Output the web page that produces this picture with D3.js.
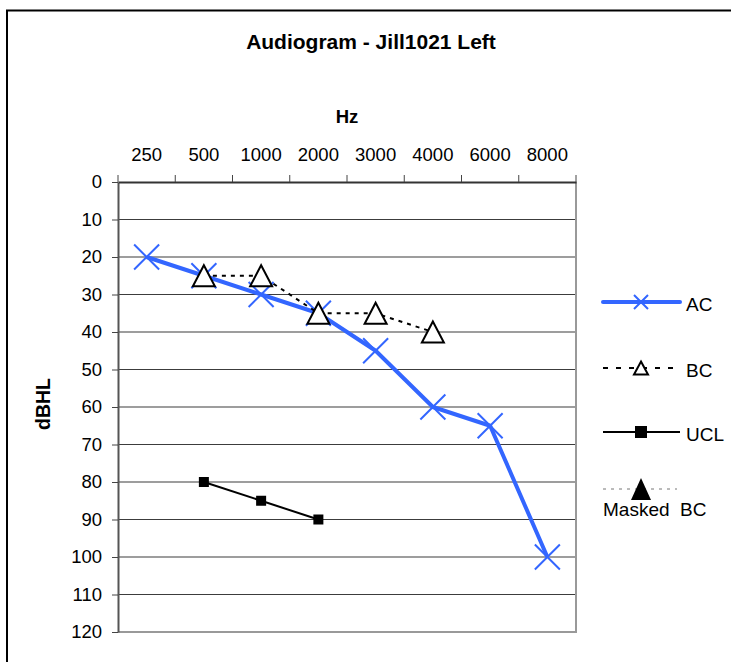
<!DOCTYPE html>
<html>
<head>
<meta charset="utf-8">
<script src="https://cdn.jsdelivr.net/npm/d3@7/dist/d3.min.js"></script>
<style>
  body { margin: 0; background: #fff; }
  svg { display: block; font-family: "Liberation Sans", Arial, sans-serif; }
</style>
</head>
<body>
<svg id="chart" width="731" height="662"></svg>
<script>
// Audiogram data
const freqs = ["250", "500", "1000", "2000", "3000", "4000", "6000", "8000"];
const acValues = [20, 25, 30, 35, 45, 60, 65, 100];
const bcFreqs = ["500", "1000", "2000", "3000", "4000"];
const bcValues = [25, 25, 35, 35, 40];
const uclFreqs = ["500", "1000", "2000"];
const uclValues = [80, 85, 90];
const dbTicks = [0, 10, 20, 30, 40, 50, 60, 70, 80, 90, 100, 110, 120];
const legendNames = ["AC", "BC", "UCL", "Masked  BC"];

const svg = d3.select("#chart");
const plot = { left: 118, top: 182, right: 576, bottom: 632 };

const x = d3.scaleBand().domain(freqs).range([plot.left, plot.right]).padding(0);
const y = d3.scaleLinear().domain([0, 120]).range([plot.top, plot.bottom]);
const cx = f => x(f) + x.bandwidth() / 2;

// outer frame
svg.append("path")
  .attr("d", "M7,662 L7,10.5 L731,10.5")
  .attr("fill", "none").attr("stroke", "#000").attr("stroke-width", 2);

// title
svg.append("text")
  .attr("x", 371).attr("y", 49)
  .attr("text-anchor", "middle")
  .attr("font-weight", "bold").attr("font-size", 21)
  .text("Audiogram - Jill1021 Left");

// horizontal gridlines
svg.append("g").selectAll("line")
  .data(dbTicks.filter(d => d > 0 && d < 120))
  .join("line")
  .attr("x1", plot.left).attr("x2", plot.right)
  .attr("y1", d => y(d)).attr("y2", d => y(d))
  .attr("stroke", "#3c3c3c").attr("stroke-width", 1.2);

// right and bottom plot borders
svg.append("path")
  .attr("d", `M${plot.right},${plot.top} L${plot.right},${plot.bottom} L${plot.left},${plot.bottom}`)
  .attr("fill", "none").attr("stroke", "#999").attr("stroke-width", 2);

// left axis
const yAxis = svg.append("g")
  .attr("transform", `translate(${plot.left},0)`)
  .call(d3.axisLeft(y).tickValues(dbTicks).tickSize(6).tickPadding(10).tickSizeOuter(0));
yAxis.select(".domain").attr("stroke", "#555").attr("stroke-width", 2);
yAxis.selectAll(".tick line").attr("stroke", "#444");
yAxis.selectAll(".tick text")
  .attr("font-size", 18.5).attr("fill", "#000")
  .attr("font-family", "\"Liberation Sans\", Arial, sans-serif");

// top axis: line, boundary ticks and category labels
const xAxis = svg.append("g")
  .attr("transform", `translate(0,${plot.top})`)
  .call(d3.axisTop(x).tickSize(0).tickPadding(21).tickSizeOuter(0));
xAxis.select(".domain").attr("stroke", "#333").attr("stroke-width", 2);
xAxis.selectAll(".tick text")
  .attr("font-size", 18.5).attr("fill", "#000")
  .attr("font-family", "\"Liberation Sans\", Arial, sans-serif");
const bounds = freqs.map(f => x(f)).concat([x(freqs[freqs.length - 1]) + x.bandwidth()]);
xAxis.append("g").selectAll("line")
  .data(bounds)
  .join("line")
  .attr("x1", d => d).attr("x2", d => d)
  .attr("y1", 0).attr("y2", -7)
  .attr("stroke", "#444").attr("stroke-width", 1);

// axis titles
svg.append("text")
  .attr("x", (plot.left + plot.right) / 2).attr("y", 123)
  .attr("text-anchor", "middle")
  .attr("font-weight", "bold").attr("font-size", 18.5)
  .text("Hz");
svg.append("text")
  .attr("transform", `translate(50,${(plot.top + plot.bottom) / 2 - 3}) rotate(-90)`)
  .attr("text-anchor", "middle")
  .attr("font-weight", "bold").attr("font-size", 19.5)
  .text("dBHL");

// marker shapes
const crossPath = s => `M${-s},${-s}L${s},${s}M${-s},${s}L${s},${-s}`;
const triPath = (w, h) => `M0,${-h / 2}L${w / 2},${h / 2}L${-w / 2},${h / 2}Z`;

const line = d3.line().x(d => cx(d[0])).y(d => y(d[1]));

// UCL series
const uclData = uclFreqs.map((f, i) => [f, uclValues[i]]);
svg.append("path").datum(uclData)
  .attr("d", line).attr("fill", "none")
  .attr("stroke", "#000").attr("stroke-width", 2);
svg.append("g").selectAll("rect").data(uclData).join("rect")
  .attr("x", d => cx(d[0]) - 5).attr("y", d => y(d[1]) - 5)
  .attr("width", 10).attr("height", 10).attr("fill", "#000");

// AC series
const acData = freqs.map((f, i) => [f, acValues[i]]);
svg.append("path").datum(acData)
  .attr("d", line).attr("fill", "none")
  .attr("stroke", "#3366FF").attr("stroke-width", 4)
  .attr("stroke-linejoin", "round");
svg.append("g").selectAll("path").data(acData).join("path")
  .attr("transform", d => `translate(${cx(d[0])},${y(d[1])})`)
  .attr("d", crossPath(12.5))
  .attr("stroke", "#3366FF").attr("stroke-width", 2).attr("fill", "none");

// BC series
const bcData = bcFreqs.map((f, i) => [f, bcValues[i]]);
svg.append("path").datum(bcData)
  .attr("d", line).attr("fill", "none")
  .attr("stroke", "#000").attr("stroke-width", 2)
  .attr("stroke-dasharray", "4,5");
svg.append("g").selectAll("path").data(bcData).join("path")
  .attr("transform", d => `translate(${cx(d[0])},${y(d[1])})`)
  .attr("d", triPath(22, 21))
  .attr("fill", "#fff").attr("stroke", "#000").attr("stroke-width", 2);

// legend
const lg = svg.append("g");
const lx0 = 603, lx1 = 680, lm = 641, ltx = 686;
const legendY = [302, 368, 432, 489];

// AC
lg.append("line").attr("x1", lx0).attr("x2", lx1).attr("y1", legendY[0]).attr("y2", legendY[0])
  .attr("stroke", "#3366FF").attr("stroke-width", 4).attr("stroke-linecap", "round");
lg.append("path").attr("transform", `translate(${lm},${legendY[0]})`)
  .attr("d", crossPath(7)).attr("stroke", "#3366FF").attr("stroke-width", 2);
// BC
lg.append("line").attr("x1", lx0).attr("x2", lx1).attr("y1", legendY[1]).attr("y2", legendY[1])
  .attr("stroke", "#000").attr("stroke-width", 2).attr("stroke-dasharray", "5,8");
lg.append("path").attr("transform", `translate(${lm},${legendY[1]})`)
  .attr("d", triPath(14, 13)).attr("fill", "#fff").attr("stroke", "#000").attr("stroke-width", 2);
// UCL
lg.append("line").attr("x1", lx0).attr("x2", lx1).attr("y1", legendY[2]).attr("y2", legendY[2])
  .attr("stroke", "#000").attr("stroke-width", 2);
lg.append("rect").attr("x", lm - 6).attr("y", legendY[2] - 6).attr("width", 12).attr("height", 12)
  .attr("fill", "#000");
// Masked BC
lg.append("line").attr("x1", lx0).attr("x2", 677).attr("y1", legendY[3]).attr("y2", legendY[3])
  .attr("stroke", "#777").attr("stroke-width", 1).attr("stroke-dasharray", "3,5");
lg.append("path").attr("transform", `translate(${lm},${legendY[3]})`)
  .attr("d", triPath(20, 22)).attr("fill", "#000");

lg.selectAll("text.lbl").data(legendNames.slice(0, 3)).join("text")
  .attr("class", "lbl")
  .attr("x", ltx).attr("y", (d, i) => legendY[i] + 9)
  .attr("font-size", 19).text(d => d);
lg.append("text").attr("x", 603).attr("y", 516)
  .attr("font-size", 19).attr("xml:space", "preserve")
  .style("white-space", "pre").text(legendNames[3]);
</script>
</body>
</html>
